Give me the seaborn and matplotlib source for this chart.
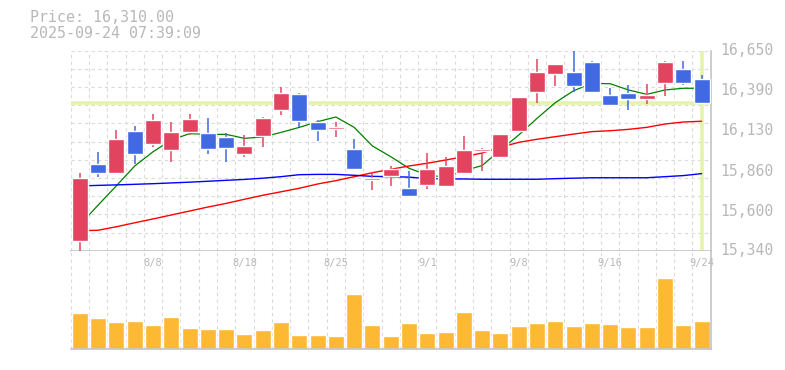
import numpy as np
import pandas as pd
import seaborn as sns
import matplotlib.pyplot as plt
from matplotlib.transforms import blended_transform_factory

# daily candles (trading days 8/4 - 9/24)
dates = ['8/4', '8/5', '8/6', '8/7', '8/8', '8/12', '8/13', '8/14', '8/15',
         '8/18', '8/19', '8/20', '8/21', '8/22', '8/25', '8/26', '8/27', '8/28',
         '8/29', '9/1', '9/2', '9/3', '9/4', '9/5', '9/8', '9/9', '9/10', '9/11',
         '9/12', '9/16', '9/17', '9/18', '9/19', '9/22', '9/24']
opens = [15405, 15908, 15851, 16124, 16041, 16002, 16119, 16111, 16085, 15975,
         16093, 16264, 16366, 16183, 16137, 16006, 15805, 15831, 15751, 15772,
         15766, 15851, 15995, 15956, 16126, 16381, 16499, 16510, 16576, 16360,
         16373, 16336, 16440, 16530, 16465]
highs = [15851, 15986, 16131, 16157, 16235, 16183, 16235, 16209, 16109, 16098,
         16215, 16414, 16370, 16196, 16181, 16072, 15853, 15895, 15862, 15980,
         15954, 16091, 16010, 16104, 16347, 16596, 16563, 16650, 16580, 16406,
         16427, 16434, 16580, 16583, 16493]
lows = [15340, 15825, 15842, 15910, 16021, 15923, 16098, 15975, 15923, 15956,
        16021, 16231, 16148, 16060, 16087, 16000, 15740, 15766, 15700, 15746,
        15760, 15844, 15864, 15945, 16126, 16306, 16421, 16378, 16381, 16290,
        16264, 16303, 16355, 16427, 16310]
closes = [15818, 15851, 16072, 15975, 16196, 16117, 16203, 16008, 16015, 16026,
          16209, 16375, 16192, 16133, 16150, 15877, 15818, 15877, 15700, 15877,
          15897, 16002, 16008, 16104, 16347, 16510, 16563, 16421, 16381, 16296,
          16336, 16360, 16576, 16440, 16310]

# moving averages
ma_short = [15510, 15639, 15766, 15895, 15988, 16065, 16107, 16102, 16102, 16076,
            16085, 16115, 16148, 16185, 16216, 16148, 16026, 15956, 15880, 15836,
            15821, 15864, 15898, 16000, 16098, 16207, 16310, 16388, 16436, 16434,
            16393, 16364, 16393, 16404, 16404]
ma_mid = [15471, 15474, 15497, 15523, 15548, 15574, 15600, 15626, 15650, 15677,
          15703, 15726, 15749, 15777, 15799, 15825, 15851, 15873, 15895, 15913,
          15934, 15956, 15980, 16017, 16050, 16070, 16087, 16104, 16120, 16126,
          16135, 16148, 16170, 16183, 16188]
ma_long = [15764, 15768, 15771, 15775, 15779, 15784, 15789, 15795, 15801, 15807,
           15815, 15825, 15838, 15840, 15840, 15834, 15827, 15825, 15822, 15812,
           15810, 15810, 15808, 15808, 15808, 15808, 15812, 15815, 15818, 15818,
           15818, 15818, 15825, 15832, 15845]

volumes = [3600, 3100, 2700, 2800, 2400, 3200, 2100, 2000, 2000, 1500, 1900, 2700,
           1400, 1400, 1300, 5500, 2400, 1300, 2600, 1600, 1700, 3700, 1900, 1600,
           2300, 2600, 2800, 2300, 2600, 2500, 2200, 2200, 7100, 2400, 2800]

shown_dates = ['8/8', '8/18', '8/25', '9/1', '9/8', '9/16', '9/24']
price_labels = [16650, 16390, 16130, 15860, 15600, 15340]
last_price = 16310
stamp = '2025-09-24 07:39:09'

df = pd.DataFrame({'date': dates, 'open': opens, 'high': highs, 'low': lows,
                   'close': closes, 'ma5': ma_short, 'ma25': ma_mid,
                   'ma75': ma_long, 'volume': volumes})
df['i'] = np.arange(len(df))

sns.set_style('white')
plt.rcParams['font.family'] = ['DejaVu Sans Mono']

UP = '#e2445f'
DOWN = '#4169e1'
GRID = '#dadada'
SPINE = '#c4c4c4'
TXT = '#b8b8b8'
HL = '#e4f3ad'

fig = plt.figure(figsize=(7.85, 3.70), dpi=100)
ax = fig.add_axes([0.0901, 0.3224, 0.8153, 0.5405])
axv = fig.add_axes([0.0901, 0.0559, 0.8153, 0.2665])

n = len(df)
ymin, ymax = min(price_labels), max(price_labels)

for a in (ax, axv):
    a.set_xlim(-0.5, n - 0.5)
    a.set_xticks(np.arange(-0.5, n, 1))
    a.grid(axis='x', color=GRID, lw=0.8, ls=(0, (3, 3)), zorder=0)
    a.tick_params(length=0, labelbottom=False, labelleft=False)
    a.set_axisbelow(True)
    for s in ['top', 'left']:
        a.spines[s].set_visible(False)
    for s in ['right', 'bottom']:
        a.spines[s].set_color(SPINE)
        a.spines[s].set_linewidth(1.2)

ax.set_ylim(ymin, ymax)
ax.set_yticks(np.linspace(ymin, ymax, 12))
ax.grid(axis='y', color=GRID, lw=0.8, ls=(0, (3, 3)), zorder=0)

# current price markers
ax.axhline(last_price, color=HL, lw=2.6, zorder=1)
ax.axvline(n - 1, color=HL, lw=2.6, zorder=1)

# moving averages
sns.lineplot(data=df, x='i', y='ma5', color='green', lw=0.9, ax=ax, zorder=2)
sns.lineplot(data=df, x='i', y='ma25', color='red', lw=1.0, ax=ax, zorder=2)
sns.lineplot(data=df, x='i', y='ma75', color='blue', lw=1.0, ax=ax, zorder=2)

# candles
up = df['close'] >= df['open']
cols = np.where(up, UP, DOWN)
body_lo = np.minimum(df['open'], df['close'])
body_h = np.maximum(np.abs(df['close'] - df['open']), 10)
ax.vlines(df['i'], df['low'], df['high'], colors=cols, lw=1.1, zorder=3)
ax.bar(df['i'], body_h, bottom=body_lo, width=0.87, color=cols, zorder=4)

ax.set_xlabel('')
ax.set_ylabel('')
ax.set_xlim(-0.5, n - 0.5)
ax.set_ylim(ymin, ymax)

trans = blended_transform_factory(ax.transAxes, ax.transData)
for p in price_labels:
    ax.text(1.0145, p, f'{p:,}', transform=trans, ha='left', va='center',
            color=TXT, fontsize=10.6)

# volume
sns.barplot(data=df, x='i', y='volume', native_scale=True, color='#fdb933',
            saturation=1, width=0.87, ax=axv, zorder=2)
axv.set_xlim(-0.5, n - 0.5)
axv.set_ylim(0, 9860)
axv.set_xlabel('')
axv.set_ylabel('')
axv.tick_params(length=0, labelbottom=False, labelleft=False)

vtrans = blended_transform_factory(axv.transData, axv.transAxes)
for d in shown_dates:
    axv.text(dates.index(d), 0.88, d, transform=vtrans, ha='center',
             va='center', color=TXT, fontsize=7.5)

fig.text(30 / 785, 1 - 18 / 370, f'Price: {last_price:,.2f}', color=TXT,
         fontsize=10.8, ha='left', va='center')
fig.text(30 / 785, 1 - 33.5 / 370, stamp, color=TXT, fontsize=10.8,
         ha='left', va='center')

fig.savefig('out.png', dpi=100, facecolor='white')
